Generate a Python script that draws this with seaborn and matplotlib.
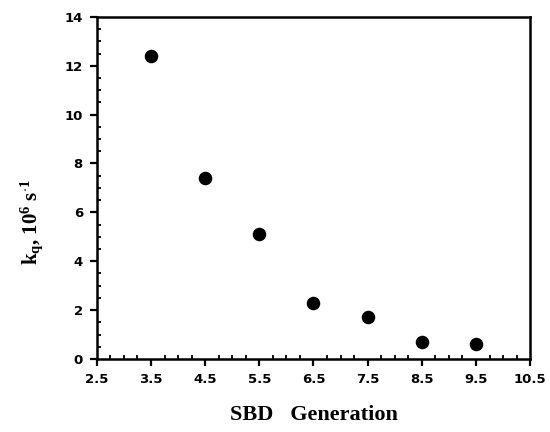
import numpy as np
import pandas as pd
import matplotlib
matplotlib.use("Agg")
import matplotlib.pyplot as plt
import seaborn as sns
from matplotlib.ticker import FixedLocator

# datos
generation = [3.5, 4.5, 5.5, 6.5, 7.5, 8.5, 9.5]
kq = [12.4, 7.4, 5.1, 2.3, 1.7, 0.7, 0.6]
xticks = [2.5, 3.5, 4.5, 5.5, 6.5, 7.5, 8.5, 9.5, 10.5]
yticks = [0, 2, 4, 6, 8, 10, 12, 14]

df = pd.DataFrame({"generation": generation, "kq": kq})

sns.set_style("ticks")
plt.rcParams["font.family"] = ["DejaVu Sans"]
plt.rcParams["font.weight"] = "bold"
plt.rcParams["mathtext.fontset"] = "custom"
plt.rcParams["mathtext.rm"] = "Liberation Serif:bold"
plt.rcParams["mathtext.it"] = "Liberation Serif:bold"
plt.rcParams["mathtext.bf"] = "Liberation Serif:bold"
for k in ["text.color", "axes.labelcolor", "xtick.color", "ytick.color"]:
    plt.rcParams[k] = "black"

fig = plt.figure(figsize=(5.5, 4.32), dpi=100)
ax = fig.add_axes([0.176, 0.169, 0.788, 0.792])

sns.scatterplot(data=df, x="generation", y="kq", ax=ax, color="black",
                s=95, edgecolor="black", linewidth=0, legend=False)

ax.set_xlim(2.5, 10.5)
ax.set_ylim(0, 14)
ax.xaxis.set_major_locator(FixedLocator(xticks))
ax.xaxis.set_minor_locator(FixedLocator(np.arange(2.5, 10.51, 0.25)))
ax.yaxis.set_major_locator(FixedLocator(yticks))
ax.yaxis.set_minor_locator(FixedLocator(np.arange(0, 14.01, 0.5)))
ax.set_xticklabels([f"{t:.1f}" for t in xticks])
ax.set_yticklabels([str(t) for t in yticks])

for s in ax.spines.values():
    s.set_linewidth(1.8)
    s.set_color("black")

ax.tick_params(which="major", direction="out", length=5, width=1.6,
               labelsize=9.5, pad=5)
ax.tick_params(which="minor", direction="in", length=3, width=1.3)

ax.set_xlabel("SBD   Generation", family="Liberation Serif", fontweight="bold",
              fontsize=16)
ax.xaxis.set_label_coords(0.5, -0.135)
ax.set_ylabel(r"$\mathrm{k_q}$, 10$^{\mathrm{6}}$ s$^{\mathrm{\cdot 1}}$",
              family="Liberation Serif", fontweight="bold", fontsize=15)
ax.yaxis.set_label_coords(-0.12, 0.40)

fig.savefig("out.png", dpi=100)
